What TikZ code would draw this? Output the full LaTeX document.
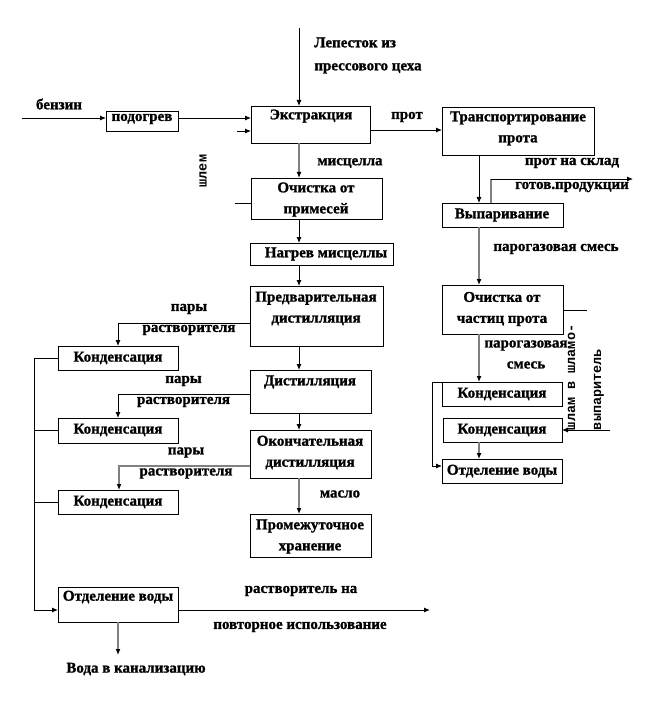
\documentclass[tikz,border=0pt]{standalone}
\usepackage{fontspec}
\setmainfont{Liberation Serif}[BoldFeatures={FakeBold=1.2}]
\newfontfamily\rotfont{Liberation Mono}
\usetikzlibrary{arrows.meta}
\newcommand{\mybox}[5]{\node[bx, minimum width={#4-#2}, minimum height={#5-#3}] (#1) at ({(#2+#4)/2},{(#3+#5)/2}) {};}
\begin{document}
\begin{tikzpicture}[x=1pt,y=-1pt,
  every node/.style={inner sep=0pt, outer sep=0pt},
  bx/.style={draw, line width=0.9pt},
  tx/.style={font=\fontsize{15}{21}\selectfont\bfseries, align=center},
  rt/.style={font=\fontsize{13.5}{26}\selectfont\rotfont\bfseries, rotate=90, align=left},
  ln/.style={line width=0.9pt},
  arr/.style={ln, -{Latex[length=6pt,width=5pt]}},
  gln/.style={line width=1.6pt, draw=black!50},
  garr/.style={gln, -{Latex[length=6pt,width=5pt,color=black]}}]
\useasboundingbox (0,0) rectangle (648,703);
% boxes
\mybox{pod}{106}{111}{178}{131}
\mybox{ex}{251}{106}{370}{143}
\mybox{tr}{442}{107}{594}{155}
\mybox{och1}{251}{178}{382}{219}
\mybox{nag}{250}{243}{393}{265}
\mybox{pred}{250}{286}{383}{346}
\mybox{dist}{250}{370}{371}{413}
\mybox{ok}{250}{430}{371}{478}
\mybox{prom}{250}{514}{371}{557}
\mybox{k1}{58}{346}{178}{370}
\mybox{k2}{58}{418}{178}{443}
\mybox{k3}{58}{490}{178}{514}
\mybox{otL}{58}{587}{178}{622}
\mybox{vyp}{442}{203}{563}{227}
\mybox{och2}{442}{285}{563}{334}
\mybox{kR1}{442}{382}{562}{406}
\mybox{kR2}{443}{418}{562}{442}
\mybox{otR}{442}{459}{562}{483}
% box texts
\node[tx] at (142,119) {подогрев};
\node[tx] at (311,116) {Экстракция};
\node[tx] at (518,128.5) {Транспортирование\\прота};
\node[tx] at (316,199.5) {Очистка от\\примесей};
\node[tx] at (326,254) {Нагрев мисцеллы};
\node[tx] at (316,308.5) {Предварительная\\дистилляция};
\node[tx] at (310,382) {Дистилляция};
\node[tx] at (310,452.5) {Окончательная\\дистилляция};
\node[tx] at (310,536.5) {Промежуточное\\хранение};
\node[tx] at (118,358) {Конденсация};
\node[tx] at (118,430) {Конденсация};
\node[tx] at (118,502) {Конденсация};
\node[tx] at (118,597) {Отделение воды};
\node[tx] at (502,215) {Выпаривание};
\node[tx] at (502,309) {Очистка от\\частиц прота};
\node[tx] at (502,394) {Конденсация};
\node[tx] at (502,430) {Конденсация};
\node[tx] at (502,471) {Отделение воды};
% labels
\node[tx] at (59,104) {бензин};
\node[tx, align=left] at (368,55.5) {Лепесток из\\[2pt]прессового цеха};
\node[tx] at (407,117) {прот};
\node[tx] at (350,163) {мисцелла};
\node[rt] at (203,171) {шлем};
\node[tx] at (572,175) {прот на склад\\[3pt]готов.продукции};
\node[tx] at (556,249) {парогазовая смесь};
\node[tx] at (526,354.5) {парогазовая\\смесь};
\node[tx] at (189,319.5) {пары\\растворителя};
\node[tx] at (183.5,391.5) {пары\\растворителя};
\node[tx] at (186,463) {пары\\растворителя};
\node[tx] at (340,494) {масло};
\node[rt, anchor=base west] at (601,430) {шлам в шламо-\\выпаритель};
\node[tx] at (301,591) {растворитель на};
\node[tx] at (300,627) {повторное использование};
\node[tx] at (136,669) {Вода в канализацию};
% coordinates
\coordinate (t0) at (299,28);
\coordinate (b0) at (22,118);
\coordinate (s0) at (237,131);
\coordinate (e0) at (237,130);
\coordinate (c1) at (235,203);
\coordinate (r1) at (118,323);
\coordinate (r2) at (118,394);
\coordinate (r3) at (119,466);
\coordinate (L0) at (34,358);
\coordinate (L1) at (34,610);
\coordinate (o1) at (430,610);
\coordinate (w1) at (118,655);
\coordinate (xR) at (479,0);
\coordinate (s1) at (491,179);
\coordinate (s2) at (633,179);
\coordinate (c2) at (587,310);
\coordinate (c3) at (610,430);
\coordinate (c4) at (432,382);
\coordinate (c5) at (432,466);
% connectors left/center
\draw[arr] (t0) -- (t0 |- ex.north);
\draw[arr] (b0) -- (b0 -| pod.west);
\draw[arr] (pod.east |- b0) -- (b0 -| ex.west);
\draw[arr] (s0) -- (s0 -| ex.west);
\draw[arr] (ex.east |- e0) -- (e0 -| tr.west);
\draw[garr] (t0 |- ex.south) -- (t0 |- och1.north);
\draw[ln] (c1) -- (c1 -| och1.west);
\draw[arr] (t0 |- och1.south) -- (t0 |- nag.north);
\draw[arr] (t0 |- nag.south) -- (t0 |- pred.north);
\draw[arr] (t0 |- pred.south) -- (t0 |- dist.north);
\draw[arr] (t0 |- dist.south) -- (t0 |- ok.north);
\draw[garr] (t0 |- ok.south) -- (t0 |- prom.north);
\draw[arr] (r1 -| pred.west) -- (r1) -- (r1 |- k1.north);
\draw[arr] (r2 -| dist.west) -- (r2) -- (r2 |- k2.north);
\draw[garr] (r3 -| ok.west) -- (r3) -- (r3 |- k3.north);
\draw[ln] (k1.west) -- (L0);
\draw[ln] (k2.west) -- (k2.west -| L0);
\draw[ln] (k3.west) -- (k3.west -| L0);
\draw[arr] (L0) -- (L1) -- (L1 -| otL.west);
\draw[arr] (otL.east |- L1) -- (o1);
\draw[garr] (otL.south) -- (w1);
% connectors right
\draw[arr] (xR |- tr.south) -- (xR |- vyp.north);
\draw[gln] (s1 |- vyp.north) -- (s1);
\draw[arr] (s1) -- (s2);
\draw[garr] (xR |- vyp.south) -- (xR |- och2.north);
\draw[ln] (c2 -| och2.east) -- (c2);
\draw[garr] (xR |- och2.south) -- (xR |- kR1.north);
\draw[arr] (c3) -- (c3 -| kR2.east);
\draw[garr] (xR |- kR2.south) -- (xR |- otR.north);
\draw[arr] (kR1.north west) -- (c4) -- (c5) -- (c5 -| otR.west);
\end{tikzpicture}
\end{document}
